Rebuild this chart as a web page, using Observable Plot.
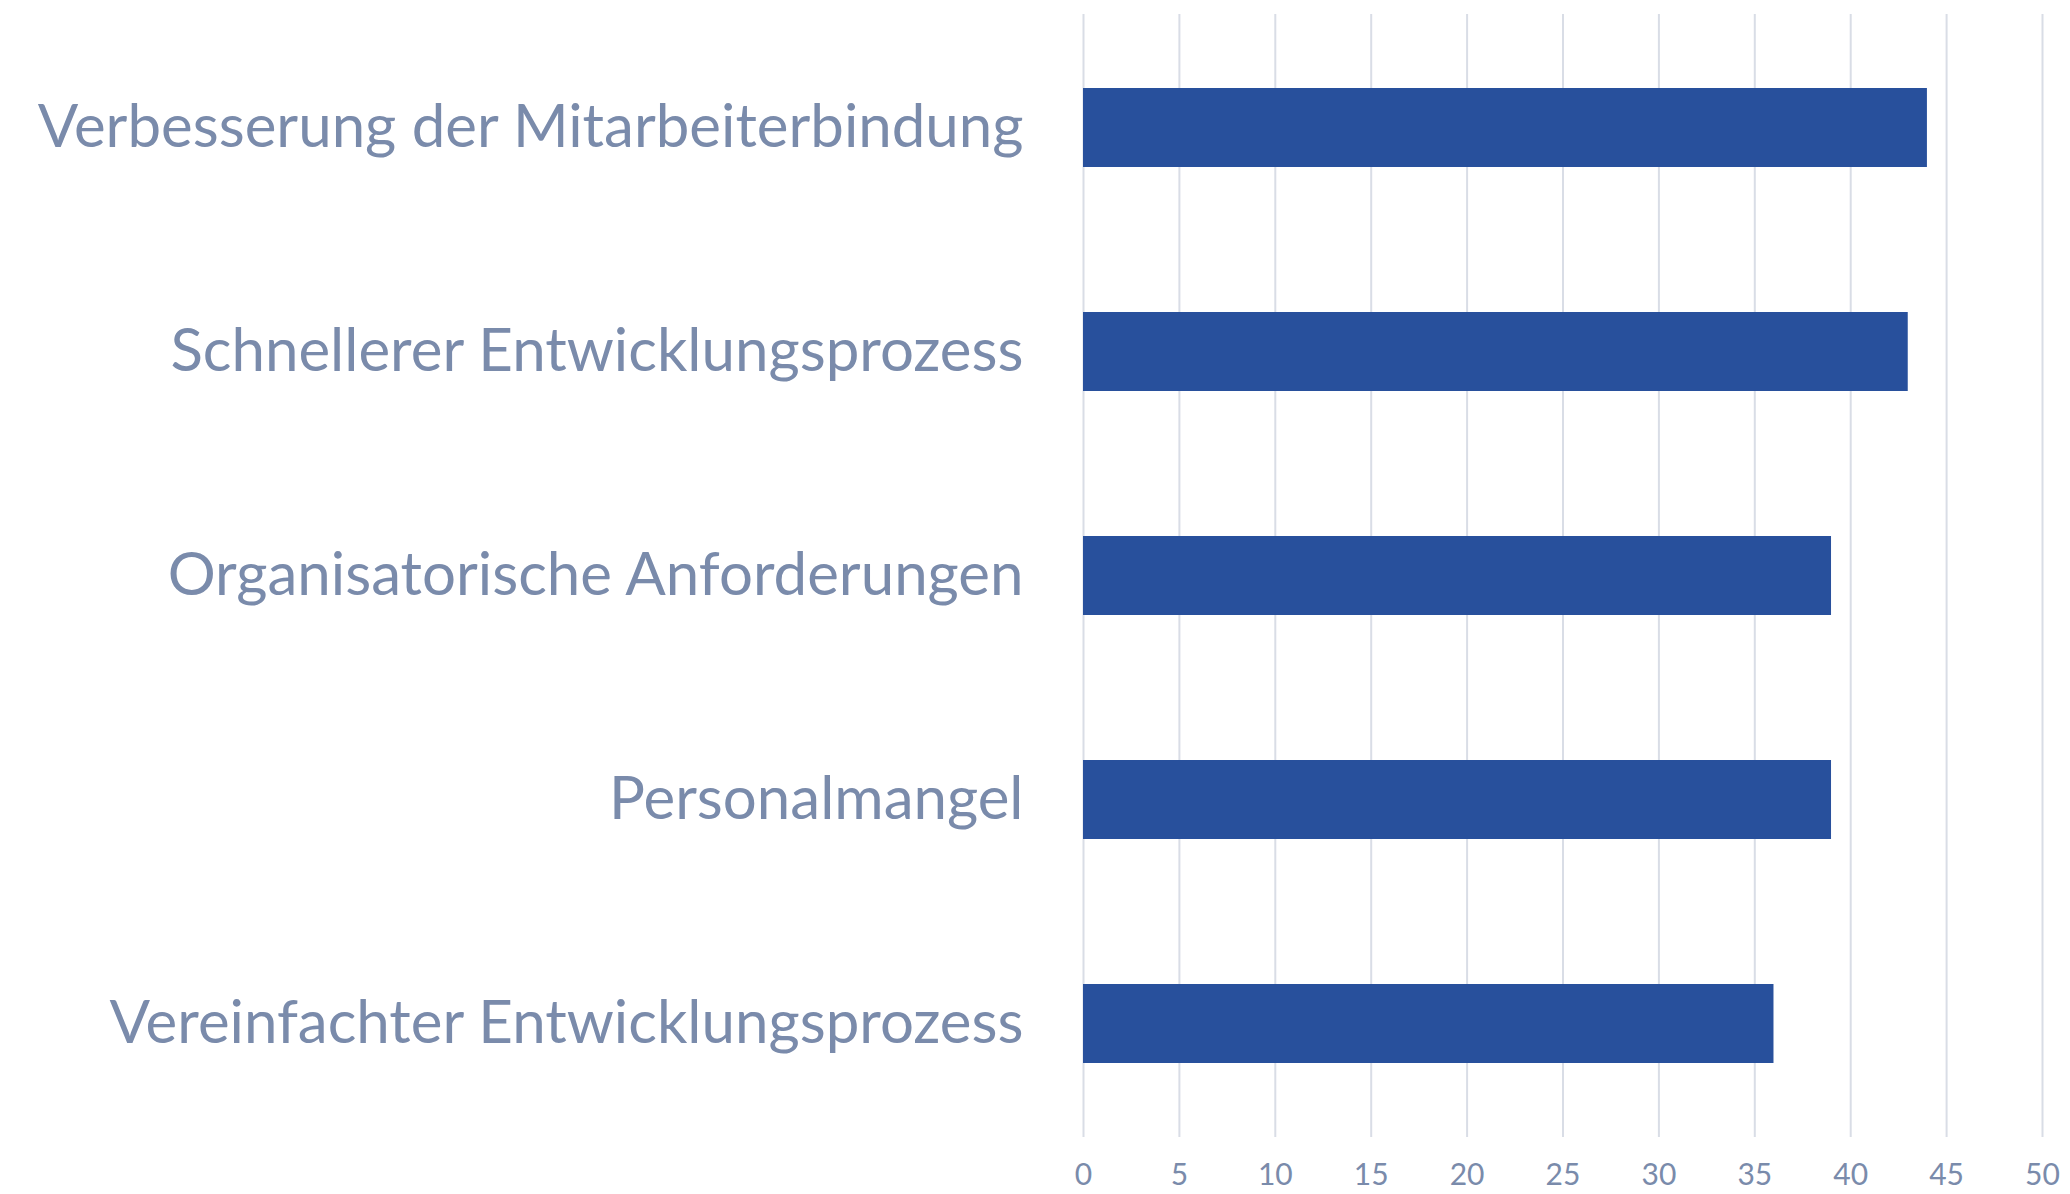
<!DOCTYPE html>
<html>
<head>
<meta charset="utf-8">
<script src="https://cdn.jsdelivr.net/npm/d3@7"></script>
<script src="https://cdn.jsdelivr.net/npm/@observablehq/plot@0.6"></script>
<style>
  html, body { margin: 0; padding: 0; background: #ffffff; }
  #chart svg { display: block; }
</style>
</head>
<body>
<div id="chart"></div>
<script>
const categories = [
  "Verbesserung der Mitarbeiterbindung",
  "Schnellerer Entwicklungsprozess",
  "Organisatorische Anforderungen",
  "Personalmangel",
  "Vereinfachter Entwicklungsprozess"
];
const values = [44, 43, 39, 39, 36];
const xTicks = [0, 5, 10, 15, 20, 25, 30, 35, 40, 45, 50];

const data = categories.map((c, i) => ({category: c, value: values[i]}));

const labelColor = "#7a8bab";

const chart = Plot.plot({
  width: 2070,
  height: 1194,
  marginLeft: 1083,
  marginRight: 28,
  marginTop: 14,
  marginBottom: 57,
  style: {fontFamily: "Lato, 'Open Sans', sans-serif", background: "#ffffff"},
  x: {domain: [0, 50], ticks: xTicks},
  y: {domain: categories, paddingInner: 0.648, paddingOuter: 0.324, align: 0.5},
  marks: [
    Plot.gridX(xTicks, {stroke: "#d9dde6", strokeOpacity: 1, strokeWidth: 2}),
    Plot.barX(data, {x: "value", y: "category", fill: "#28509c"}),
    Plot.axisX({ticks: xTicks, tickSize: 0, tickPadding: 26, fontSize: 30, color: labelColor, label: null}),
    Plot.axisY({tickSize: 0, tickPadding: 60, fontSize: 60, color: labelColor, label: null})
  ]
});

document.getElementById("chart").appendChild(chart);
</script>
</body>
</html>
